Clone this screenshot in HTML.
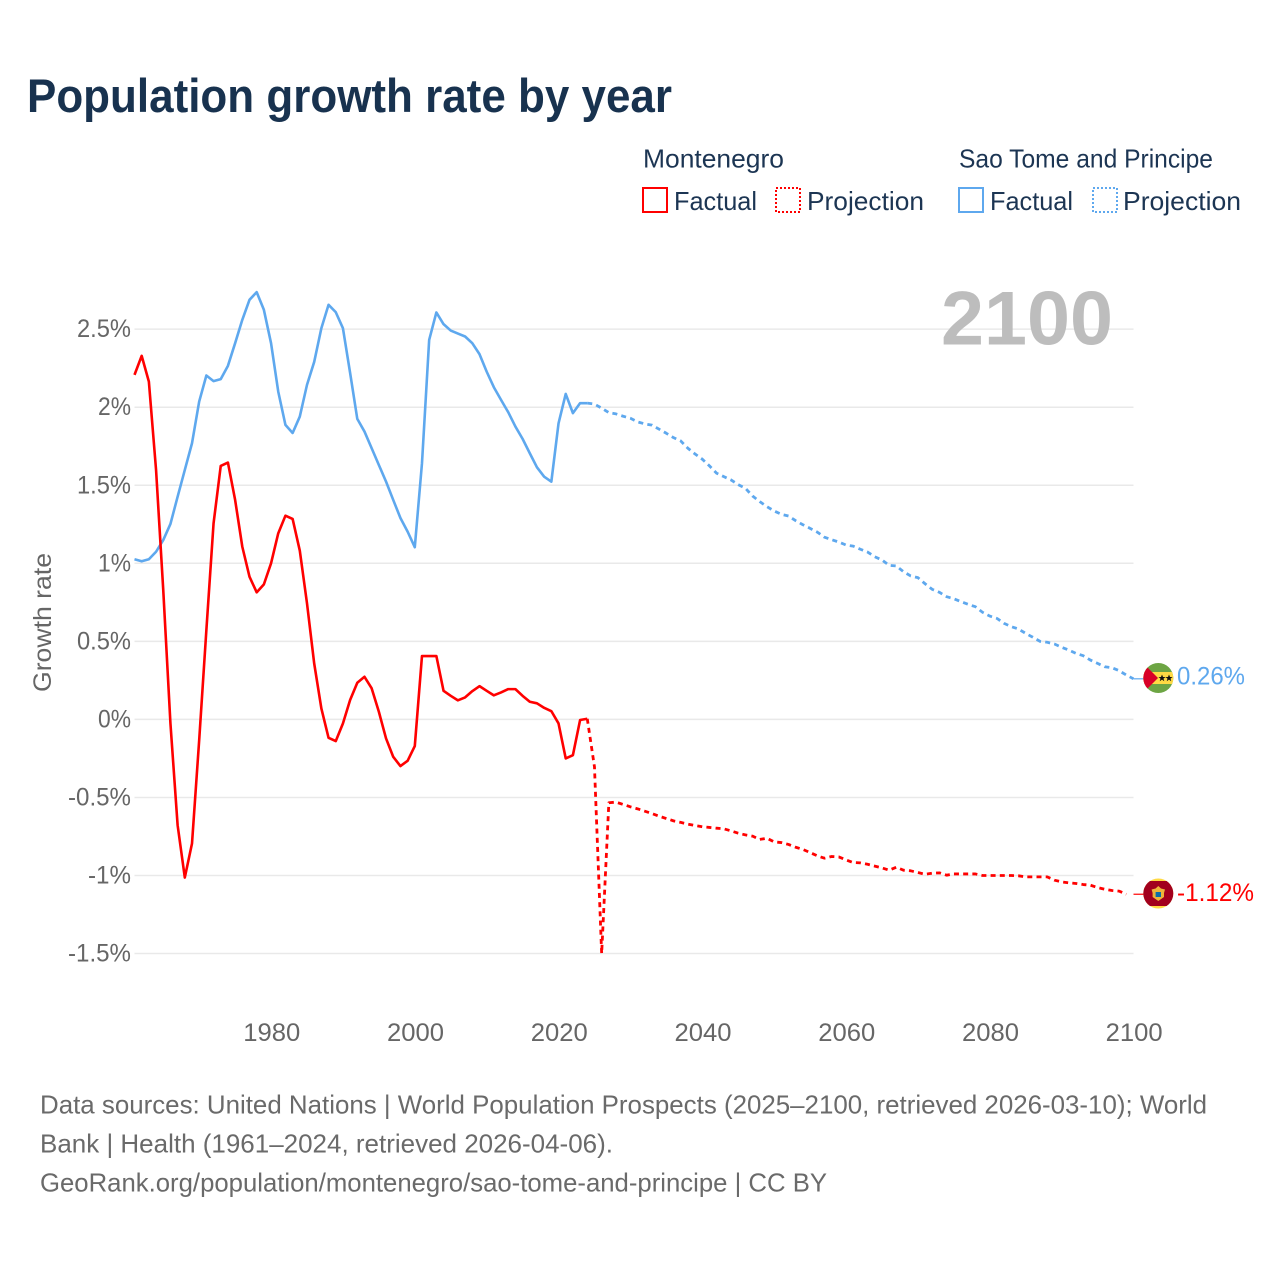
<!DOCTYPE html>
<html lang="en">
<head>
<meta charset="utf-8">
<title>Population growth rate by year</title>
<style>
html,body{margin:0;padding:0;background:#fff;}
svg{display:block;font-family:"Liberation Sans",sans-serif;}
</style>
</head>
<body>
<svg id="chart" width="1280" height="1280" viewBox="0 0 1280 1280" xmlns="http://www.w3.org/2000/svg">
  <rect x="0" y="0" width="1280" height="1280" fill="#ffffff"/>
  <text x="27" y="112" font-size="47" font-weight="700" fill="#18324f" textLength="645" lengthAdjust="spacingAndGlyphs">Population growth rate by year</text>

  <g>
    <text x="643" y="167.5" font-size="26" fill="#1c3553" textLength="141" lengthAdjust="spacingAndGlyphs">Montenegro</text>
    <text x="959" y="167.5" font-size="26" fill="#1c3553" textLength="254" lengthAdjust="spacingAndGlyphs">Sao Tome and Principe</text>
    <rect x="643" y="188" width="24" height="24" fill="none" stroke="#ff0000" stroke-width="2"/>
    <text x="674" y="210" font-size="26" fill="#1c3553" textLength="83" lengthAdjust="spacingAndGlyphs">Factual</text>
    <rect x="776" y="188" width="24" height="24" fill="none" stroke="#ff0000" stroke-width="2" stroke-dasharray="2 2"/>
    <text x="807" y="210" font-size="26" fill="#1c3553" textLength="117" lengthAdjust="spacingAndGlyphs">Projection</text>
    <rect x="959" y="188" width="24" height="24" fill="none" stroke="#5ea8ee" stroke-width="2"/>
    <text x="990" y="210" font-size="26" fill="#1c3553" textLength="83" lengthAdjust="spacingAndGlyphs">Factual</text>
    <rect x="1093" y="188" width="24" height="24" fill="none" stroke="#5ea8ee" stroke-width="2" stroke-dasharray="2 2"/>
    <text x="1123" y="210" font-size="26" fill="#1c3553" textLength="118" lengthAdjust="spacingAndGlyphs">Projection</text>
  </g>

  <text transform="translate(51,622.5) rotate(-90)" text-anchor="middle" font-size="25" fill="#666666" textLength="139" lengthAdjust="spacingAndGlyphs">Growth rate</text>

  <g id="grid"></g>
  <g id="yticks"></g>
  <g id="xticks"></g>

  <text x="1113" y="344.5" text-anchor="end" font-size="76" font-weight="700" fill="#bdbdbd" textLength="172" lengthAdjust="spacingAndGlyphs">2100</text>

  <g id="series"></g>

  <defs>
    <clipPath id="flag-clip-st"><circle cx="1158.3" cy="678" r="15"/></clipPath>
    <clipPath id="flag-clip-me"><circle cx="1158.3" cy="893.5" r="15"/></clipPath>
  </defs>
  <g clip-path="url(#flag-clip-st)">
    <rect x="1143" y="663" width="31" height="30" fill="#6da544"/>
    <rect x="1143" y="672" width="31" height="12" fill="#ffda44"/>
    <polygon points="1143,663 1158,678 1143,693" fill="#d80027"/>
    <polygon points="1162,674.5 1163,677 1165.6,677 1163.5,678.6 1164.3,681.2 1162,679.6 1159.7,681.2 1160.5,678.6 1158.4,677 1161,677" fill="#111"/>
    <polygon points="1169,674.5 1170,677 1172.6,677 1170.5,678.6 1171.3,681.2 1169,679.6 1166.7,681.2 1167.5,678.6 1165.4,677 1168,677" fill="#111"/>
  </g>
  <g clip-path="url(#flag-clip-me)">
    <rect x="1143" y="878" width="31" height="31" fill="#ffda44"/>
    <rect x="1143" y="881" width="31" height="25" fill="#a2001d"/>
    <polygon points="1158.3,886 1161,888.5 1165,889.5 1164,893 1164,897 1158.3,901 1152.6,897 1152.6,893 1151.6,889.5 1155.6,888.5" fill="#eeb43a"/>
    <rect x="1155.6" y="892" width="5.4" height="5" fill="#0d6ea8"/>
  </g>

  <text id="label-st" x="1177" y="684.5" font-size="25" fill="#5ea8ee" textLength="68" lengthAdjust="spacingAndGlyphs">0.26%</text>
  <text id="label-me" x="1177" y="901" font-size="25" fill="#ff0000" textLength="77" lengthAdjust="spacingAndGlyphs">-1.12%</text>

  <g>
    <text x="40" y="1113.5" font-size="26" fill="#6a6a6a" textLength="1167" lengthAdjust="spacingAndGlyphs">Data sources: United Nations | World Population Prospects (2025–2100, retrieved 2026-03-10); World</text>
    <text x="40" y="1152.5" font-size="26" fill="#6a6a6a" textLength="573" lengthAdjust="spacingAndGlyphs">Bank | Health (1961–2024, retrieved 2026-04-06).</text>
    <text x="40" y="1191.5" font-size="26" fill="#6a6a6a" textLength="787" lengthAdjust="spacingAndGlyphs">GeoRank.org/population/montenegro/sao-tome-and-principe | CC BY</text>
  </g>
</svg>

<script>
// ---- Chart data ----
const factualStartYear = 1961;
const projectionStartYear = 2024;
const yTickValues = [2.5, 2, 1.5, 1, 0.5, 0, -0.5, -1, -1.5];
const yTickLabels = ["2.5%", "2%", "1.5%", "1%", "0.5%", "0%", "-0.5%", "-1%", "-1.5%"];
const yTickWidths = [54, 33, 54, 33, 54, 33, 63, 43, 63];
const xTickYears = [1980, 2000, 2020, 2040, 2060, 2080, 2100];
const xTickLabels = ["1980", "2000", "2020", "2040", "2060", "2080", "2100"];

// Factual 1961–2024
const montenegroFactual = [
  2.207, 2.329, 2.164, 1.598, 0.829, -0.026, -0.678, -1.013, -0.795, -0.133,
  0.572, 1.256, 1.624, 1.645, 1.406, 1.106, 0.914, 0.814, 0.865, 1.0,
  1.192, 1.305, 1.284, 1.081, 0.744, 0.359, 0.07, -0.118, -0.139, -0.026,
  0.124, 0.235, 0.273, 0.199, 0.049, -0.122, -0.24, -0.299, -0.265, -0.171,
  0.406, 0.406, 0.406, 0.183, 0.151, 0.122, 0.141, 0.181, 0.213, 0.183,
  0.154, 0.173, 0.194, 0.194, 0.151, 0.113, 0.103, 0.074, 0.053, -0.026,
  -0.25, -0.229, -0.004, 0.004
];
const saoTomeFactual = [
  1.026, 1.013, 1.026, 1.074, 1.149, 1.252, 1.427, 1.598, 1.769, 2.036,
  2.203, 2.167, 2.18, 2.265, 2.41, 2.56, 2.688, 2.737, 2.624, 2.41,
  2.1, 1.887, 1.835, 1.94, 2.143, 2.29, 2.506, 2.656, 2.609, 2.506,
  2.22, 1.925, 1.844, 1.737, 1.63, 1.523, 1.406, 1.29, 1.203, 1.103,
  1.641, 2.431, 2.607, 2.532, 2.491, 2.472, 2.453, 2.41, 2.34, 2.228,
  2.128, 2.047, 1.968, 1.876, 1.797, 1.705, 1.615, 1.555, 1.523, 1.897,
  2.085, 1.962, 2.026, 2.026
];

// Projection 2024–2100
const montenegroProjection = [
  0.004, -0.304, -1.5, -0.534, -0.53, -0.545, -0.56, -0.573, -0.588, -0.603,
  -0.62, -0.635, -0.65, -0.66, -0.671, -0.68, -0.688, -0.692, -0.697, -0.701,
  -0.714, -0.729, -0.74, -0.748, -0.769, -0.761, -0.785, -0.789, -0.801, -0.819,
  -0.833, -0.853, -0.874, -0.889, -0.878, -0.881, -0.9, -0.917, -0.919, -0.928,
  -0.94, -0.951, -0.966, -0.947, -0.966, -0.97, -0.981, -0.992, -0.985, -0.983,
  -0.998, -0.99, -0.99, -0.99, -0.99, -1.0, -1.0, -1.0, -1.0, -1.0,
  -1.002, -1.009, -1.009, -1.009, -1.009, -1.03, -1.041, -1.047, -1.051, -1.058,
  -1.062, -1.077, -1.088, -1.096, -1.1, -1.12
];
const saoTomeProjection = [
  2.026, 2.02, 1.994, 1.965, 1.957, 1.942, 1.929, 1.906, 1.893, 1.885,
  1.859, 1.833, 1.805, 1.784, 1.737, 1.70, 1.667, 1.624, 1.577, 1.555,
  1.534, 1.504, 1.481, 1.431, 1.395, 1.363, 1.335, 1.314, 1.303, 1.273,
  1.247, 1.224, 1.20, 1.167, 1.151, 1.136, 1.117, 1.11, 1.09, 1.072,
  1.042, 1.021, 0.987, 0.983, 0.946, 0.919, 0.908, 0.869, 0.833, 0.814,
  0.786, 0.773, 0.754, 0.737, 0.722, 0.686, 0.662, 0.647, 0.615, 0.594,
  0.579, 0.551, 0.526, 0.50, 0.494, 0.483, 0.462, 0.444, 0.423, 0.408,
  0.38, 0.359, 0.337, 0.331, 0.312, 0.284, 0.26
];

// ---- Axis functions ----
function xScale(year) {
  return 134.5 + (year - 1961) * (1133.5 - 134.5) / (2100 - 1961);
}
function yScale(value) {
  return 719.4 - value * 156.1;
}
function pathFrom(startYear, values) {
  return values.map(function (v, i) {
    return (i ? "L" : "M") + xScale(startYear + i).toFixed(2) + " " + yScale(v).toFixed(2);
  }).join(" ");
}

const NS = "http://www.w3.org/2000/svg";
const gridGroup = document.getElementById("grid");
const yTickGroup = document.getElementById("yticks");
const xTickGroup = document.getElementById("xticks");
const seriesGroup = document.getElementById("series");

yTickValues.forEach(function (v, i) {
  const line = document.createElementNS(NS, "line");
  
  
  line.setAttribute("x1", xScale(1961));
  line.setAttribute("x2", xScale(2100));
  line.setAttribute("y1", yScale(v));
  line.setAttribute("y2", yScale(v));
  line.setAttribute("stroke", "#e9e9e9");
  line.setAttribute("stroke-width", "1.5");
  gridGroup.appendChild(line);

  const label = document.createElementNS(NS, "text");
  
  
  label.setAttribute("x", 131);
  label.setAttribute("y", yScale(v) + 8);
  label.setAttribute("text-anchor", "end");
  label.setAttribute("font-size", "25");
  label.setAttribute("fill", "#666666");
  label.setAttribute("textLength", yTickWidths[i]);
  label.setAttribute("lengthAdjust", "spacingAndGlyphs");
  label.textContent = yTickLabels[i];
  yTickGroup.appendChild(label);
});

xTickYears.forEach(function (year, i) {
  const label = document.createElementNS(NS, "text");
  
  
  label.setAttribute("x", xScale(year) + 0.7);
  label.setAttribute("y", 1041);
  label.setAttribute("text-anchor", "middle");
  label.setAttribute("font-size", "25");
  label.setAttribute("fill", "#666666");
  label.setAttribute("textLength", "57");
  label.setAttribute("lengthAdjust", "spacingAndGlyphs");
  label.textContent = xTickLabels[i];
  xTickGroup.appendChild(label);
});

function addLine(name, startYear, values, color, dashed) {
  const p = document.createElementNS(NS, "path");
  
  
  p.setAttribute("d", pathFrom(startYear, values));
  p.setAttribute("fill", "none");
  p.setAttribute("stroke", color);
  p.setAttribute("stroke-width", dashed ? "2.8" : "2.6");
  p.setAttribute("stroke-linejoin", "round");
  if (dashed) {
    p.setAttribute("stroke-dasharray", "5 4.2");
  }
  seriesGroup.appendChild(p);
}
function addConnector(name, values, color) {
  const c = document.createElementNS(NS, "line");
  
  
  const yEnd = yScale(values[values.length - 1]);
  c.setAttribute("x1", xScale(2100));
  c.setAttribute("x2", xScale(2100) + 10);
  c.setAttribute("y1", yEnd);
  c.setAttribute("y2", yEnd);
  c.setAttribute("stroke", color);
  c.setAttribute("stroke-width", "1.2");
  seriesGroup.appendChild(c);
}

addLine('line-sao-tome-factual', factualStartYear, saoTomeFactual, "#5ea8ee", false);
addLine('line-sao-tome-projection', projectionStartYear, saoTomeProjection, "#5ea8ee", true);
addLine('line-montenegro-factual', factualStartYear, montenegroFactual, "#ff0000", false);
addLine('line-montenegro-projection', projectionStartYear, montenegroProjection, "#ff0000", true);
addConnector('connector-sao-tome', saoTomeProjection, "#5ea8ee");
addConnector('connector-montenegro', montenegroProjection, "#ff0000");
</script>
</body>
</html>
